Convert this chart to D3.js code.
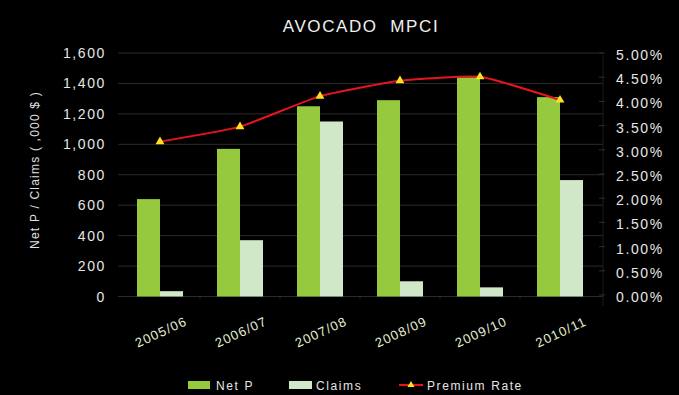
<!DOCTYPE html>
<html>
<head>
<meta charset="utf-8">
<script src="https://cdn.jsdelivr.net/npm/d3@7"></script>
<style>
  html, body { margin: 0; padding: 0; background: #000; }
  svg { display: block; }
  text { font-family: "Liberation Sans", Arial, sans-serif; }
</style>
</head>
<body>
<div id="chart"></div>
<script>
// Avocado MPCI: net premium and claims ($'000) with premium rate (%)
const categories = ["2005/06", "2006/07", "2007/08", "2008/09", "2009/10", "2010/11"];
const netP = [640, 970, 1250, 1290, 1440, 1310];
const claims = [35, 370, 1150, 100, 60, 765];
const premiumRate = [3.21, 3.52, 4.15, 4.47, 4.55, 4.07];
const leftTicks = [0, 200, 400, 600, 800, 1000, 1200, 1400, 1600];
const rightTicks = [0, 0.5, 1, 1.5, 2, 2.5, 3, 3.5, 4, 4.5, 5];

const W = 679, H = 395;
const plot = { left: 118, right: 603, top: 53, bottom: 296.5 };

const svg = d3.select("#chart").append("svg")
  .attr("width", W).attr("height", H);

svg.append("rect").attr("width", W).attr("height", H).attr("fill", "#000");

const x = d3.scaleBand().domain(categories).range([120, 600]).paddingInner(0.425).paddingOuter(0.2125);
const xs = d3.scaleBand().domain(["netP", "claims"]).range([0, x.bandwidth()]);
const y = d3.scaleLinear().domain([0, 1600]).range([plot.bottom, plot.top]);
const y2 = d3.scaleLinear().domain([0, 5]).range([297, 55]);

// gridlines
svg.append("g").selectAll("line").data(leftTicks).join("line")
  .attr("x1", plot.left).attr("x2", plot.right)
  .attr("y1", d => y(d)).attr("y2", d => y(d))
  .attr("stroke", "#2b2b2b").attr("stroke-width", 1);

// left axis labels
const fmt = d3.format(",");
svg.append("g").selectAll("text").data(leftTicks).join("text")
  .attr("x", 106).attr("y", d => y(d))
  .attr("dy", "0.36em")
  .attr("text-anchor", "end")
  .attr("fill", "#e6e6e6")
  .attr("font-size", 14)
  .attr("letter-spacing", 1.6)
  .text(d => fmt(d));

// right axis: faint line, ticks and labels
svg.append("line")
  .attr("x1", plot.right).attr("x2", plot.right)
  .attr("y1", y2(5)).attr("y2", 306)
  .attr("stroke", "#1c1c1c");
svg.append("g").selectAll("line").data(rightTicks).join("line")
  .attr("x1", plot.right - 4).attr("x2", plot.right + 2)
  .attr("y1", d => y2(d) - 2).attr("y2", d => y2(d) - 2)
  .attr("stroke", "#2e2e2e");
const pct = d3.format(".2f");
svg.append("g").selectAll("text").data(rightTicks).join("text")
  .attr("x", 616).attr("y", d => y2(d))
  .attr("dy", "0.36em")
  .attr("fill", "#e6e6e6")
  .attr("font-size", 14)
  .attr("letter-spacing", 1.6)
  .text(d => pct(d) + "%");

// category axis tick marks
svg.append("g").selectAll("line").data(categories.slice(1)).join("line")
  .attr("x1", d => x(d) - x.step() * x.paddingInner() / 2)
  .attr("x2", d => x(d) - x.step() * x.paddingInner() / 2)
  .attr("y1", plot.bottom - 1).attr("y2", plot.bottom + 2)
  .attr("stroke", "#333");

// bars
const groups = svg.append("g").selectAll("g").data(categories).join("g")
  .attr("transform", d => `translate(${x(d)},0)`);
groups.append("rect")
  .attr("x", xs("netP")).attr("width", xs.bandwidth())
  .attr("y", (d, i) => y(netP[i]))
  .attr("height", (d, i) => y(0) - y(netP[i]))
  .attr("fill", "#96c93d");
groups.append("rect")
  .attr("x", xs("claims")).attr("width", xs.bandwidth())
  .attr("y", (d, i) => y(claims[i]))
  .attr("height", (d, i) => y(0) - y(claims[i]))
  .attr("fill", "#d1e8c8");

// premium rate line, lightly smoothed
const cx = d => x(d) + x.bandwidth() / 2;
const line = d3.line()
  .x((d, i) => cx(categories[i]))
  .y(d => y2(d))
  .curve(d3.curveCardinal.tension(0.55));
svg.append("path").datum(premiumRate)
  .attr("d", line)
  .attr("fill", "none")
  .attr("stroke", "#e8141c")
  .attr("stroke-width", 2);
const tri = d3.symbol().type(d3.symbolTriangle).size(34);
svg.append("g").selectAll("path").data(premiumRate).join("path")
  .attr("d", tri)
  .attr("transform", (d, i) => `translate(${cx(categories[i])},${y2(d)})`)
  .attr("fill", "#ffe21a");

// category labels
svg.append("g").selectAll("text").data(categories).join("text")
  .attr("transform", d => `translate(${cx(d) + 1},332) rotate(-25)`)
  .attr("text-anchor", "middle")
  .attr("dy", "0.35em")
  .attr("fill", "#e4eed4")
  .attr("font-size", 13)
  .attr("letter-spacing", 1.2)
  .text(d => d);

// title
svg.append("text")
  .attr("x", 361).attr("y", 32)
  .attr("text-anchor", "middle")
  .attr("fill", "#f0f0f0")
  .attr("font-size", 17)
  .attr("letter-spacing", 1.6)
  .attr("xml:space", "preserve")
  .text("AVOCADO  MPCI");

// left axis title
svg.append("text")
  .attr("transform", "translate(39,170) rotate(-90)")
  .attr("text-anchor", "middle")
  .attr("fill", "#e0e0e0")
  .attr("font-size", 12)
  .attr("letter-spacing", 1.2)
  .text("Net P / Claims ( ,000 $ )");

// legend
const legend = svg.append("g");
legend.append("rect").attr("x", 188).attr("y", 381).attr("width", 22).attr("height", 8).attr("fill", "#96c93d");
legend.append("text").attr("x", 216).attr("y", 390).attr("fill", "#e6e6e6").attr("font-size", 12).attr("letter-spacing", 1.6).text("Net P");
legend.append("rect").attr("x", 289).attr("y", 381).attr("width", 23).attr("height", 8).attr("fill", "#d1e8c8");
legend.append("text").attr("x", 316).attr("y", 390).attr("fill", "#e6e6e6").attr("font-size", 12).attr("letter-spacing", 1.6).text("Claims");
legend.append("line").attr("x1", 399).attr("x2", 423).attr("y1", 385).attr("y2", 385).attr("stroke", "#e8141c").attr("stroke-width", 2);
legend.append("path").attr("d", d3.symbol().type(d3.symbolTriangle).size(22)).attr("transform", "translate(411,385)").attr("fill", "#ffe21a");
legend.append("text").attr("x", 427).attr("y", 390).attr("fill", "#e6e6e6").attr("font-size", 12).attr("letter-spacing", 1.6).text("Premium Rate");
</script>
</body>
</html>
